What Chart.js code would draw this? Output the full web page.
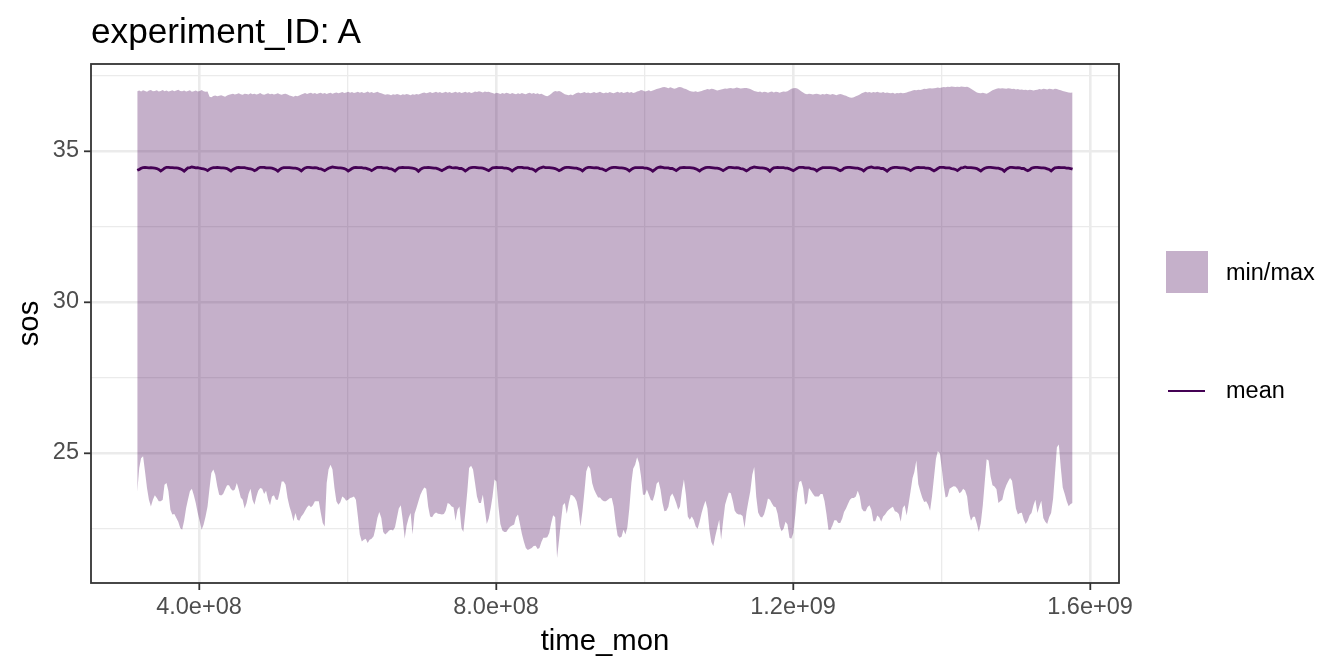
<!DOCTYPE html>
<html>
<head>
<meta charset="utf-8">
<script src="https://cdn.jsdelivr.net/npm/chart.js@4.4.1/dist/chart.umd.min.js"></script>
<style>
  html, body { margin: 0; padding: 0; background: #ffffff; }
  #wrap { position: relative; width: 1344px; height: 672px; overflow: hidden; }
  canvas { position: absolute; left: 0; top: 0; }
  .txt { position: absolute; font-family: "Liberation Sans", Arial, sans-serif; color: #000; line-height: 1; white-space: nowrap; }
  #title { left: 91px; top: 13px; font-size: 35.2px; }
  #leg1 { left: 1226px; top: 260.5px; font-size: 23.5px; }
  #leg2 { left: 1226px; top: 378.5px; font-size: 23.5px; }
  #key1 { position: absolute; left: 1166px; top: 251px; width: 42px; height: 42px; background: rgba(68,1,84,0.31); }
  #key2 { position: absolute; left: 1168px; top: 389.6px; width: 37px; height: 2.8px; background: #440154; }
</style>
</head>
<body>
<div id="wrap">
  <canvas id="c" width="1344" height="672"></canvas>
  <div id="title" class="txt">experiment_ID: A</div>
  <div id="key1"></div>
  <div id="leg1" class="txt">min/max</div>
  <div id="key2"></div>
  <div id="leg2" class="txt">mean</div>
</div>
<script>
// ---------------- data ----------------
const years = [];
for (let y = 1980; y <= 2019; y++) years.push(y);
const months = [0,1,2,3,4,5,6,7,8,9,10,11];
// monthly time stamps (seconds), mid-month
const time_mon = [];
years.forEach(y => months.forEach(m => time_mon.push(Date.UTC(y, m, 16) / 1000)));

const sos_min = [
23.71,24.50,24.83,24.89,24.39,23.84,23.45,23.23,23.45,23.60,23.51,23.40,
23.40,23.45,23.95,24.01,23.73,23.12,22.96,22.98,22.85,22.72,22.52,22.46,
22.76,23.18,23.45,23.73,23.82,23.60,23.34,23.01,22.74,22.46,22.63,22.90,
23.23,23.84,24.34,24.45,24.28,23.90,23.62,23.59,23.64,23.79,23.93,23.93,
23.81,23.75,23.79,24.01,23.79,23.53,23.45,23.16,23.34,23.64,23.82,23.45,
23.29,23.56,23.75,23.84,23.82,23.64,23.75,23.45,23.27,23.56,23.60,23.45,
23.45,23.73,24.06,24.06,23.95,23.51,23.23,23.01,22.74,23.01,22.79,22.76,
22.90,22.98,23.09,23.20,23.27,23.20,23.27,23.40,23.40,23.40,23.01,22.68,
22.57,24.01,24.45,24.61,24.45,23.84,23.40,23.29,23.37,23.56,23.51,23.42,
23.45,23.51,23.53,23.56,23.45,22.90,22.30,22.07,22.13,22.16,22.02,22.13,
22.16,22.24,22.49,22.85,23.05,22.85,22.38,22.30,22.36,22.43,22.46,22.43,
22.54,22.87,23.16,23.27,22.79,22.16,22.60,22.85,23.01,22.30,22.98,23.18,
23.40,23.62,23.75,23.86,23.82,23.23,22.90,22.87,22.98,23.03,22.99,22.98,
22.96,22.98,23.09,23.34,23.31,23.23,23.20,22.76,23.12,23.23,22.52,22.38,
23.01,23.73,24.50,24.58,24.45,24.01,23.56,23.34,23.34,23.62,23.12,22.65,
22.83,23.18,23.56,24.12,24.06,23.23,22.65,22.43,22.38,22.38,22.48,22.56,
22.60,22.63,22.87,22.96,22.65,22.32,22.07,21.85,21.79,21.82,21.85,21.92,
21.93,21.82,21.85,22.05,22.19,22.19,22.21,22.35,22.68,22.94,22.87,21.52,
22.13,22.76,23.27,23.34,22.98,23.34,23.62,23.59,23.53,23.40,23.09,22.57,
23.07,23.73,24.39,24.58,24.48,24.01,23.79,23.65,23.53,23.53,23.44,23.40,
23.40,23.45,23.50,23.51,23.23,22.68,22.27,22.19,22.23,22.46,22.30,22.54,
23.18,24.01,24.48,24.61,24.86,24.67,24.23,23.62,23.62,23.79,23.62,23.44,
23.42,23.64,23.98,24.06,23.79,23.34,23.07,23.09,23.22,23.56,23.66,23.53,
23.34,23.12,23.23,23.75,24.12,23.62,22.90,22.79,22.90,22.78,22.57,22.49,
22.72,23.01,23.23,23.42,23.16,22.46,22.05,21.91,22.24,22.52,22.79,22.13,
22.74,23.29,23.49,23.69,23.67,23.40,23.09,23.00,22.96,22.96,22.91,22.52,
23.05,23.42,23.73,24.28,24.54,23.56,23.03,22.90,22.86,22.96,23.20,23.49,
23.45,23.33,23.23,23.20,22.98,22.57,22.41,22.49,22.72,22.63,22.19,22.16,
22.35,22.96,23.67,24.04,24.08,23.84,23.29,23.34,23.84,23.75,23.64,23.56,
23.56,23.56,23.64,23.64,23.40,22.96,22.46,22.46,22.60,22.77,22.77,22.68,
22.68,22.83,23.05,23.16,23.31,23.45,23.51,23.51,23.56,23.75,23.56,23.16,
23.07,23.07,23.20,23.27,23.12,22.74,22.74,22.93,22.87,22.72,22.90,22.96,
23.06,23.13,23.18,23.22,23.07,23.05,22.98,22.72,23.18,23.27,22.93,23.31,
23.73,24.17,24.37,24.75,23.97,23.73,23.53,23.38,23.40,23.29,23.09,23.56,
24.19,24.81,25.06,25.00,24.52,23.93,23.53,23.56,23.82,23.86,23.90,23.89,
23.82,23.67,23.71,23.82,23.76,23.56,23.01,22.76,22.89,22.89,22.65,22.38,
22.68,23.27,24.01,24.79,24.75,24.23,23.93,23.89,23.80,23.34,23.40,23.45,
23.75,23.93,24.06,24.17,24.08,23.62,23.16,22.96,23.01,23.02,22.79,22.65,
22.76,22.94,23.01,23.27,23.45,23.01,23.23,23.42,22.85,22.72,22.65,22.87,
23.01,23.49,24.30,25.19,25.28,24.50,23.86,23.64,23.40,23.24,23.31,23.34
];

const sos_max = [
36.98,37.00,36.97,37.01,36.99,36.96,37.00,37.02,36.98,36.99,37.01,36.97,
36.99,37.02,36.98,37.00,36.97,36.99,37.01,36.98,37.00,37.03,36.99,36.98,
37.00,36.97,36.99,37.01,36.96,36.98,37.00,36.97,36.99,37.02,36.98,36.96,
36.97,36.80,36.78,36.82,36.84,36.81,36.83,36.85,36.82,36.80,36.84,36.86,
36.88,36.90,36.87,36.89,36.91,36.88,36.86,36.90,36.89,36.87,36.91,36.88,
36.90,36.87,36.89,36.92,36.88,36.86,36.89,36.91,36.88,36.90,36.87,36.89,
36.91,36.88,36.86,36.89,36.90,36.87,36.84,36.82,36.80,36.83,36.81,36.84,
36.87,36.90,36.92,36.89,36.91,36.93,36.90,36.92,36.89,36.91,36.93,36.90,
36.92,36.89,36.91,36.93,36.90,36.92,36.94,36.91,36.93,36.95,36.92,36.94,
36.96,36.93,36.95,36.92,36.94,36.96,36.93,36.95,36.92,36.94,36.97,36.93,
36.95,36.92,36.94,36.96,36.93,36.91,36.89,36.86,36.88,36.87,36.85,36.88,
36.86,36.89,36.87,36.85,36.88,36.86,36.89,36.87,36.85,36.88,36.86,36.89,
36.87,36.90,36.92,36.94,36.91,36.93,36.95,36.92,36.94,36.96,36.93,36.95,
36.92,36.94,36.96,36.93,36.95,36.92,36.94,36.96,36.93,36.95,36.92,36.94,
36.96,36.93,36.95,36.92,36.94,36.97,36.95,36.98,36.96,36.94,36.97,36.95,
36.96,36.94,36.92,36.90,36.93,36.91,36.89,36.92,36.90,36.93,36.91,36.89,
36.92,36.90,36.88,36.91,36.89,36.92,36.90,36.88,36.91,36.93,36.90,36.92,
36.89,36.91,36.88,36.90,36.86,36.83,36.81,36.85,36.90,36.95,36.99,36.97,
36.99,36.96,36.92,36.88,36.86,36.85,36.87,36.85,36.89,36.92,36.94,36.91,
36.93,36.95,36.92,36.94,36.91,36.93,36.95,36.92,36.94,36.96,36.93,36.91,
36.94,36.92,36.95,36.93,36.91,36.94,36.96,36.93,36.95,36.92,36.94,36.96,
36.93,36.95,36.92,36.94,36.97,36.99,37.02,37.00,36.97,36.99,37.01,36.98,
37.00,37.03,37.05,37.07,37.09,37.11,37.12,37.10,37.08,37.11,37.09,37.06,
37.08,37.11,37.12,37.10,37.07,37.05,37.02,36.99,36.97,36.96,36.98,36.95,
36.97,36.99,37.01,37.03,37.05,37.04,37.06,37.05,37.03,37.00,37.02,37.04,
37.05,37.07,37.06,37.08,37.09,37.07,37.08,37.10,37.09,37.07,37.08,37.09,
37.09,37.07,37.05,37.02,36.99,36.97,36.95,36.97,36.94,36.96,36.95,36.93,
36.95,36.97,36.94,36.96,36.95,36.93,36.95,36.97,36.96,36.98,37.02,37.06,
37.08,37.09,37.07,37.03,36.98,36.94,36.90,36.88,36.90,36.89,36.87,36.89,
36.90,36.88,36.86,36.89,36.87,36.90,36.88,36.86,36.89,36.87,36.85,36.87,
36.89,36.87,36.85,36.83,36.80,36.77,36.76,36.78,36.81,36.84,36.87,36.91,
36.94,36.96,36.94,36.95,36.93,36.95,36.94,36.96,36.94,36.93,36.95,36.92,
36.94,36.92,36.91,36.93,36.90,36.92,36.91,36.93,36.91,36.92,36.94,36.96,
36.98,37.00,37.02,37.01,37.03,37.02,37.04,37.06,37.05,37.07,37.08,37.07,
37.08,37.09,37.10,37.09,37.10,37.12,37.11,37.13,37.12,37.14,37.13,37.12,
37.13,37.12,37.14,37.13,37.12,37.13,37.10,37.06,37.02,36.98,36.94,36.92,
36.91,36.93,36.91,36.90,36.93,36.97,37.01,37.04,37.06,37.08,37.07,37.08,
37.07,37.06,37.08,37.07,37.05,37.06,37.04,37.05,37.03,37.04,37.02,37.03,
37.01,37.03,37.02,37.00,37.02,37.03,37.05,37.04,37.06,37.05,37.04,37.06,
37.05,37.04,37.06,37.05,37.03,37.01,36.99,36.97,36.95,36.94,36.93,36.94
];

const sos_mean = [
34.36,34.39,34.43,34.45,34.46,34.45,34.44,34.45,34.44,34.43,34.42,34.39,
34.34,34.38,34.43,34.46,34.46,34.45,34.45,34.44,34.44,34.43,34.41,34.38,
34.33,34.39,34.44,34.45,34.47,34.46,34.44,34.45,34.43,34.42,34.41,34.39,
34.35,34.40,34.43,34.45,34.45,34.46,34.45,34.44,34.44,34.43,34.42,34.38,
34.34,34.39,34.42,34.45,34.46,34.45,34.45,34.45,34.43,34.42,34.41,34.39,
34.35,34.38,34.43,34.46,34.46,34.46,34.44,34.44,34.44,34.43,34.41,34.38,
34.33,34.39,34.43,34.45,34.45,34.45,34.45,34.44,34.43,34.43,34.42,34.39,
34.34,34.40,34.44,34.46,34.46,34.45,34.44,34.45,34.44,34.42,34.41,34.38,
34.35,34.39,34.43,34.45,34.47,34.46,34.45,34.44,34.44,34.43,34.42,34.39,
34.34,34.38,34.42,34.45,34.46,34.45,34.45,34.45,34.43,34.43,34.41,34.39,
34.35,34.39,34.43,34.46,34.46,34.46,34.44,34.44,34.44,34.42,34.41,34.38,
34.34,34.40,34.44,34.45,34.46,34.45,34.45,34.45,34.44,34.43,34.42,34.39,
34.33,34.39,34.43,34.45,34.45,34.46,34.45,34.44,34.43,34.43,34.41,34.38,
34.35,34.39,34.42,34.46,34.47,34.45,34.44,34.45,34.44,34.42,34.42,34.39,
34.34,34.38,34.43,34.45,34.46,34.46,34.45,34.44,34.44,34.43,34.41,34.38,
34.35,34.40,34.44,34.45,34.46,34.45,34.45,34.45,34.43,34.43,34.42,34.39,
34.34,34.39,34.43,34.46,34.46,34.46,34.44,34.44,34.44,34.42,34.41,34.38,
34.33,34.39,34.43,34.45,34.47,34.45,34.45,34.45,34.44,34.43,34.42,34.39,
34.35,34.38,34.42,34.45,34.46,34.46,34.45,34.44,34.43,34.43,34.41,34.39,
34.34,34.40,34.44,34.46,34.46,34.45,34.44,34.45,34.44,34.42,34.41,34.38,
34.35,34.39,34.43,34.45,34.46,34.46,34.45,34.44,34.44,34.43,34.42,34.39,
34.34,34.39,34.43,34.45,34.45,34.45,34.45,34.45,34.43,34.43,34.41,34.38,
34.33,34.38,34.43,34.46,34.47,34.46,34.44,34.44,34.44,34.42,34.42,34.39,
34.35,34.40,34.44,34.45,34.46,34.45,34.45,34.45,34.44,34.43,34.41,34.38,
34.34,34.39,34.42,34.45,34.46,34.46,34.45,34.44,34.43,34.43,34.42,34.39,
34.35,34.39,34.43,34.46,34.46,34.45,34.44,34.45,34.44,34.42,34.41,34.38,
34.34,34.38,34.43,34.45,34.47,34.46,34.45,34.44,34.44,34.43,34.42,34.39,
34.33,34.40,34.44,34.45,34.46,34.45,34.45,34.45,34.43,34.43,34.41,34.38,
34.35,34.39,34.43,34.46,34.46,34.46,34.44,34.44,34.44,34.42,34.41,34.39,
34.34,34.39,34.42,34.45,34.45,34.45,34.45,34.45,34.44,34.43,34.42,34.38,
34.35,34.38,34.43,34.45,34.46,34.46,34.45,34.44,34.43,34.43,34.41,34.39,
34.34,34.40,34.44,34.46,34.47,34.45,34.44,34.45,34.44,34.42,34.42,34.38,
34.33,34.39,34.43,34.45,34.46,34.46,34.45,34.44,34.44,34.43,34.41,34.39,
34.35,34.39,34.43,34.45,34.46,34.45,34.45,34.45,34.43,34.43,34.42,34.38,
34.34,34.38,34.42,34.46,34.46,34.46,34.44,34.44,34.44,34.42,34.41,34.39,
34.35,34.40,34.44,34.45,34.47,34.45,34.45,34.45,34.44,34.43,34.42,34.38,
34.34,34.39,34.43,34.45,34.46,34.46,34.45,34.44,34.43,34.43,34.41,34.39,
34.33,34.39,34.43,34.46,34.46,34.45,34.44,34.45,34.44,34.42,34.42,34.38,
34.35,34.38,34.43,34.45,34.46,34.46,34.45,34.44,34.44,34.43,34.41,34.39,
34.34,34.40,34.44,34.45,34.46,34.45,34.45,34.45,34.43,34.43,34.42,34.40
];

// axis ticks and labels
const x_major = [4e8, 8e8, 1.2e9, 1.6e9];
const x_major_labels = ['4.0e+08', '8.0e+08', '1.2e+09', '1.6e+09'];
const x_minor = [6e8, 1.0e9, 1.4e9];
const y_major = [25, 30, 35];
const y_major_labels = ['25', '30', '35'];
const y_minor = [22.5, 27.5, 32.5, 37.5];

// ---------------- chart ----------------
const FONT = '"Liberation Sans", Arial, sans-serif';
const ribbonColor = 'rgba(68,1,84,0.31)';
const lineColor = '#440154';

function pts(arr) { return time_mon.map((t, i) => ({ x: t, y: arr[i] })); }

function setTicks(major, minor) {
  return function (scale) {
    scale.ticks = major.concat(minor).sort((a, b) => a - b).map(v => ({ value: v }));
  };
}
function isMajor(list, v) { return list.some(m => Math.abs(m - v) < 1e-6 * Math.max(1, Math.abs(m))); }

const panelBorder = {
  id: 'panelBorder',
  afterDraw(chart) {
    const { ctx, chartArea: a } = chart;
    ctx.save();
    ctx.strokeStyle = '#333333';
    ctx.lineWidth = 1.8;
    ctx.strokeRect(a.left, a.top, a.right - a.left, a.bottom - a.top);
    ctx.restore();
  }
};

new Chart(document.getElementById('c'), {
  type: 'line',
  data: {
    datasets: [
      { label: 'mean', data: pts(sos_mean), borderColor: lineColor, borderWidth: 2.8,
        pointRadius: 0, fill: false, tension: 0 },
      { label: 'max', data: pts(sos_max), borderWidth: 0, borderColor: 'rgba(0,0,0,0)',
        backgroundColor: ribbonColor, pointRadius: 0, fill: '+1', tension: 0 },
      { label: 'min', data: pts(sos_min), borderWidth: 0, borderColor: 'rgba(0,0,0,0)',
        pointRadius: 0, fill: false, tension: 0 }
    ]
  },
  options: {
    responsive: false,
    animation: false,
    devicePixelRatio: 1,
    layout: { padding: { top: 64, right: 225, left: 0, bottom: 0 } },
    plugins: { legend: { display: false }, tooltip: { enabled: false }, title: { display: false } },
    scales: {
      x: {
        type: 'linear',
        min: 2.5455e8,
        max: 1.639e9,
        afterBuildTicks: setTicks(x_major, x_minor),
        afterFit: s => { s.height = 89; },
        border: { display: false },
        grid: {
          color: '#EBEBEB',
          lineWidth: c => isMajor(x_major, c.tick.value) ? 2.6 : 1.3,
          tickColor: c => isMajor(x_major, c.tick.value) ? '#333333' : 'rgba(0,0,0,0)',
          tickWidth: 1.8,
          tickLength: 7,
          drawTicks: true
        },
        ticks: {
          autoSkip: false, maxRotation: 0, padding: 3,
          color: '#4D4D4D', font: { family: FONT, size: 23.5 },
          callback: v => { const k = x_major.findIndex(m => Math.abs(m - v) < 1); return k >= 0 ? x_major_labels[k] : ''; }
        },
        title: { display: true, text: 'time_mon', color: '#000000',
                 font: { family: FONT, size: 29.3 }, padding: { top: 0, bottom: 13 } }
      },
      y: {
        type: 'linear',
        min: 20.695,
        max: 37.881,
        afterBuildTicks: setTicks(y_major, y_minor),
        afterFit: s => { s.width = 91; },
        border: { display: false },
        grid: {
          color: '#EBEBEB',
          lineWidth: c => isMajor(y_major, c.tick.value) ? 2.6 : 1.3,
          tickColor: c => isMajor(y_major, c.tick.value) ? '#333333' : 'rgba(0,0,0,0)',
          tickWidth: 1.8,
          tickLength: 7,
          drawTicks: true
        },
        ticks: {
          autoSkip: false, padding: 5,
          color: '#4D4D4D', font: { family: FONT, size: 23.5 },
          callback: v => { const k = y_major.findIndex(m => Math.abs(m - v) < 1e-6); return k >= 0 ? y_major_labels[k] : ''; }
        },
        title: { display: true, text: 'sos', color: '#000000',
                 font: { family: FONT, size: 29.3 }, padding: { top: 12, bottom: 0 } }
      }
    }
  },
  plugins: [panelBorder]
});
</script>
</body>
</html>
